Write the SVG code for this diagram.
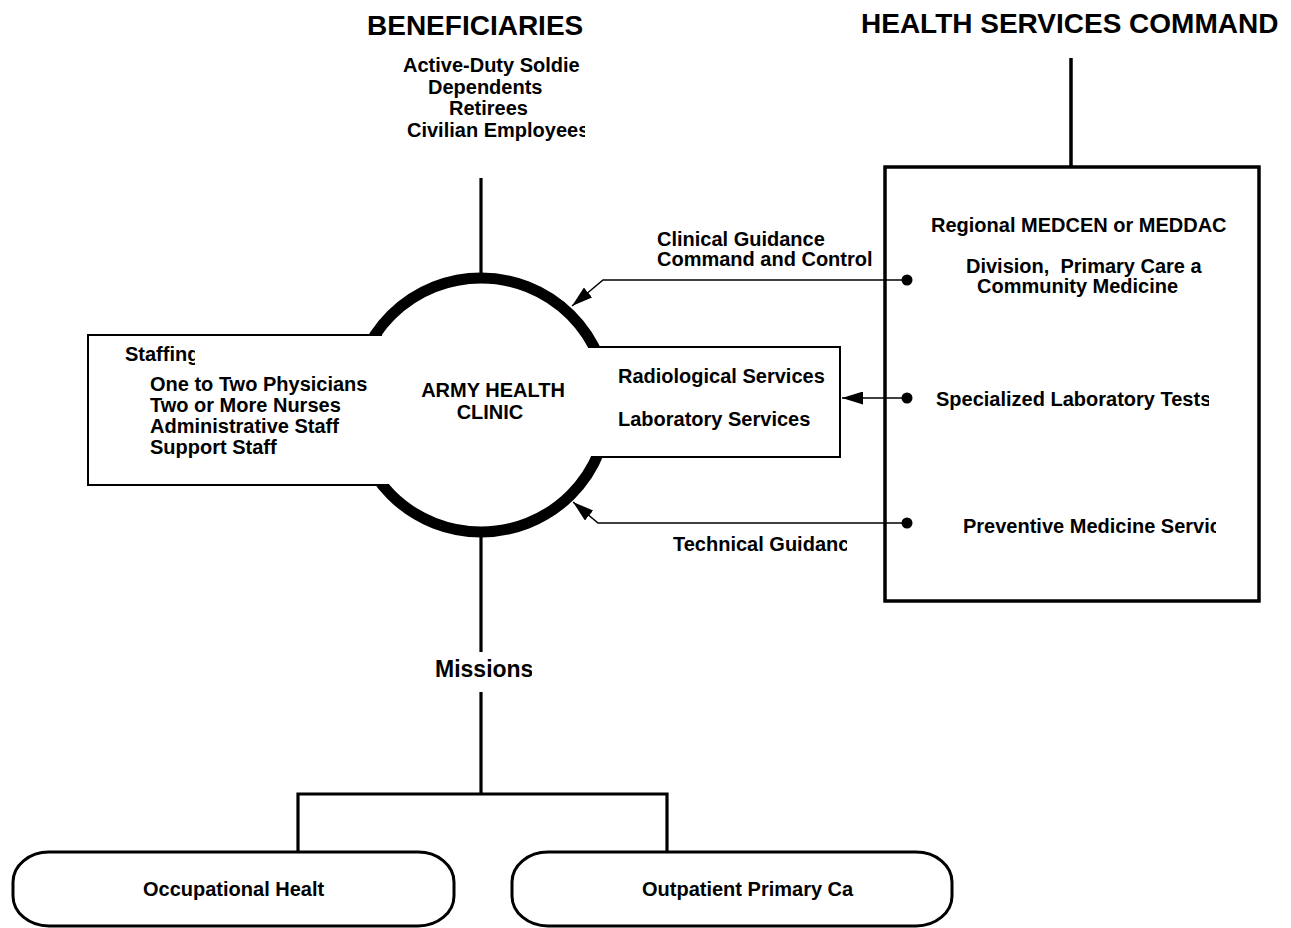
<svg xmlns="http://www.w3.org/2000/svg" width="1291" height="928" viewBox="0 0 1291 928">
<style>
text{font-family:"Liberation Sans",Arial,Helvetica,sans-serif;font-weight:bold;fill:#000;font-size:20px}
.h{font-size:28px}
.ln{fill:none;stroke:#000;stroke-width:3.2}
.thin{fill:none;stroke:#000;stroke-width:1.5}
.box{fill:none;stroke:#000;stroke-width:2}
.rbox{fill:#fff;stroke:#000;stroke-width:3}
</style>
<defs>
<marker id="arr" markerUnits="userSpaceOnUse" markerWidth="22" markerHeight="13" refX="21" refY="6.5" orient="auto">
<path d="M0,0 L21,6.5 L0,13 Z" fill="#000"/>
</marker>
<clipPath id="cCiv"><rect x="0" y="0" width="585" height="200"/></clipPath>
<clipPath id="cStaff"><rect x="0" y="300" width="195" height="100"/></clipPath>
<clipPath id="cDiv"><rect x="900" y="200" width="303" height="100"/></clipPath>
<clipPath id="cSpec"><rect x="900" y="350" width="309" height="100"/></clipPath>
<clipPath id="cPrev"><rect x="900" y="480" width="316" height="100"/></clipPath>
<clipPath id="cTech"><rect x="600" y="520" width="247" height="50"/></clipPath>
<clipPath id="cMiss"><rect x="400" y="640" width="132" height="60"/></clipPath>
</defs>
<rect width="1291" height="928" fill="#fff"/>

<g id="connectors">
<line class="ln" x1="481" y1="178" x2="481" y2="273"/>
<line class="ln" x1="481" y1="537" x2="481" y2="652"/>
<polyline class="ln" points="481,692 481,794"/>
<polyline class="ln" points="298,852 298,794 667,794 667,852"/>
<line x1="1071" y1="58" x2="1071" y2="167" stroke="#000" stroke-width="3.5"/>
<polyline class="thin" points="907,280 603,280 572,306" marker-end="url(#arr)"/>
<line class="thin" x1="907" y1="398" x2="842" y2="398" marker-end="url(#arr)"/>
<polyline class="thin" points="907,523 598,523 573,502" marker-end="url(#arr)"/>
<circle cx="907" cy="280" r="5.5" fill="#000"/>
<circle cx="907" cy="398" r="5.5" fill="#000"/>
<circle cx="907" cy="523" r="5.5" fill="#000"/>
</g>

<g id="beneficiaries">
<text class="h" x="367" y="35">BENEFICIARIES</text>
<text x="403" y="72">Active-Duty Soldie</text>
<text x="428" y="94">Dependents</text>
<text x="449" y="115">Retirees</text>
<text x="407" y="137" clip-path="url(#cCiv)">Civilian Employees</text>
</g>

<g id="clinic">
<circle cx="481" cy="405" r="127" fill="none" stroke="#000" stroke-width="11"/>
<text x="493" y="397" text-anchor="middle">ARMY HEALTH</text>
<text x="490" y="419" text-anchor="middle">CLINIC</text>
</g>

<g id="staffing">
<path d="M88,335 L382,335 L389,485 L88,485 Z" fill="#fff"/>
<path class="box" d="M382,335 H88 V485 H389"/>
<text x="125" y="361" clip-path="url(#cStaff)">Staffing</text>
<text x="150" y="391">One to Two Physicians</text>
<text x="150" y="412">Two or More Nurses</text>
<text x="150" y="433">Administrative Staff</text>
<text x="150" y="454">Support Staff</text>
</g>

<g id="services">
<path d="M588,347 L840,347 L840,457 L591,457 Z" fill="#fff"/>
<path class="box" d="M588,347 H840 V457 H591"/>
<text x="618" y="383">Radiological Services</text>
<text x="618" y="426">Laboratory Services</text>
</g>

<g id="hsc">
<text class="h" x="861" y="33">HEALTH SERVICES COMMAND</text>
<rect x="885" y="167" width="374" height="434" fill="none" stroke="#000" stroke-width="3.5"/>
<text x="931" y="232">Regional MEDCEN or MEDDAC</text>
<text x="966" y="273" style="white-space:pre" clip-path="url(#cDiv)">Division,  Primary Care a</text>
<text x="977" y="293">Community Medicine</text>
<text x="936" y="406" clip-path="url(#cSpec)">Specialized Laboratory Tests</text>
<text x="963" y="533" clip-path="url(#cPrev)">Preventive Medicine Servic</text>
</g>

<g id="labels">
<text x="657" y="246">Clinical Guidance</text>
<text x="657" y="266">Command and Control</text>
<text x="673" y="551" clip-path="url(#cTech)">Technical Guidanc</text>
<text x="435" y="677" style="font-size:23px" clip-path="url(#cMiss)">Missions</text>
</g>

<g id="occupational">
<rect class="rbox" x="13" y="852" width="441" height="74" rx="36" ry="30"/>
<text x="143" y="896">Occupational Healt</text>
</g>

<g id="outpatient">
<rect class="rbox" x="512" y="852" width="440" height="74" rx="36" ry="30"/>
<text x="642" y="896">Outpatient Primary Ca</text>
</g>
</svg>
